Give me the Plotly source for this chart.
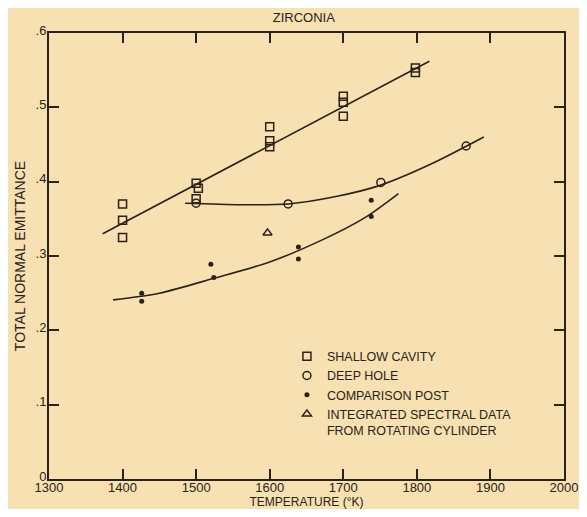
import plotly.graph_objects as go

# ---- data ----
shallow_x = [1400, 1400, 1400, 1500, 1503, 1500, 1600, 1600, 1600, 1700, 1700, 1700, 1798, 1798]
shallow_y = [0.370, 0.348, 0.325, 0.398, 0.391, 0.377, 0.474, 0.455, 0.447, 0.515, 0.507, 0.488, 0.553, 0.547]

deep_x = [1500, 1625, 1751, 1867]
deep_y = [0.371, 0.370, 0.399, 0.448]

post_x = [1426, 1426, 1520, 1524, 1639, 1639, 1738, 1738]
post_y = [0.250, 0.239, 0.289, 0.271, 0.312, 0.296, 0.375, 0.353]

spectral_x = [1597]
spectral_y = [0.331]

# drawn fit curves
shallow_fit_x = [1373, 1817]
shallow_fit_y = [0.330, 0.562]

deep_fit_x = [1485, 1560, 1625, 1690, 1750, 1820, 1891]
deep_fit_y = [0.371, 0.369, 0.370, 0.380, 0.395, 0.424, 0.460]

post_fit_x = [1387, 1450, 1524, 1600, 1670, 1730, 1775]
post_fit_y = [0.241, 0.250, 0.270, 0.292, 0.321, 0.352, 0.384]

x_ticks = [1300, 1400, 1500, 1600, 1700, 1800, 1900, 2000]
y_ticks = [0, 0.1, 0.2, 0.3, 0.4, 0.5, 0.6]
y_tick_text = ["0", ".1", ".2", ".3", ".4", ".5", ".6"]

title_text = "ZIRCONIA"
x_title = "TEMPERATURE (°K)"
y_title = "TOTAL NORMAL EMITTANCE"
names = ["SHALLOW CAVITY", "DEEP HOLE", "COMPARISON POST",
         "INTEGRATED SPECTRAL DATA<br>FROM ROTATING CYLINDER"]

INK = "#2b2114"
BG = "#f7e1b2"
FONT = "Liberation Sans, Arial, sans-serif"

fig = go.Figure()

# fit lines
for fx, fy, shape in [(shallow_fit_x, shallow_fit_y, "linear"),
                      (deep_fit_x, deep_fit_y, "spline"),
                      (post_fit_x, post_fit_y, "spline")]:
    fig.add_trace(go.Scatter(x=fx, y=fy, mode="lines", showlegend=False,
                             line=dict(color=INK, width=1.6, shape=shape, smoothing=0.8),
                             hoverinfo="skip"))

fig.add_trace(go.Scatter(x=shallow_x, y=shallow_y, mode="markers", name=names[0],
                         marker=dict(symbol="square-open", size=8, color=INK,
                                     line=dict(width=1.5, color=INK))))
fig.add_trace(go.Scatter(x=deep_x, y=deep_y, mode="markers", name=names[1],
                         marker=dict(symbol="circle-open", size=8, color=INK,
                                     line=dict(width=1.5, color=INK))))
fig.add_trace(go.Scatter(x=post_x, y=post_y, mode="markers", name=names[2],
                         marker=dict(symbol="circle", size=5, color=INK)))
fig.add_trace(go.Scatter(x=spectral_x, y=spectral_y, mode="markers", name=names[3],
                         marker=dict(symbol="triangle-up-open", size=8, color=INK,
                                     line=dict(width=1.4, color=INK))))

axis_common = dict(showline=True, linecolor=INK, linewidth=2, mirror="ticks",
                   ticks="inside", ticklen=10, tickwidth=1.6, tickcolor=INK,
                   showgrid=False, zeroline=False, automargin=False,
                   tickfont=dict(family=FONT, size=13, color=INK))

# page has an 8px body margin, so the figure is 16px smaller than the window
fig.update_layout(
    width=571, height=501,
    margin=dict(l=41, r=15, t=25, b=30),
    paper_bgcolor=BG, plot_bgcolor=BG,
    font=dict(family=FONT, color=INK),
    title=dict(text=title_text, x=0.518, xanchor="center", y=0.982, yanchor="middle",
               font=dict(family=FONT, size=13, color=INK)),
    xaxis=dict(range=[1300, 2000], tickvals=x_ticks, ticklabelstandoff=-5,
               title=dict(text=x_title, standoff=10, font=dict(family=FONT, size=12, color=INK)),
               **axis_common),
    yaxis=dict(range=[0, 0.6], tickvals=y_ticks, ticktext=y_tick_text,
               ticklabelstandoff=-2, ticklabelshift=-3,
               title=dict(text=y_title, standoff=7, font=dict(family=FONT, size=14, color=INK)),
               **axis_common),
    legend=dict(x=0.462, y=0.308, xanchor="left", yanchor="top",
                bgcolor="rgba(0,0,0,0)", borderwidth=0, valign="top",
                font=dict(family=FONT, size=12.5, color=INK),
                itemwidth=30, tracegroupgap=0),
    showlegend=True,
)

fig.write_html("out.html")
